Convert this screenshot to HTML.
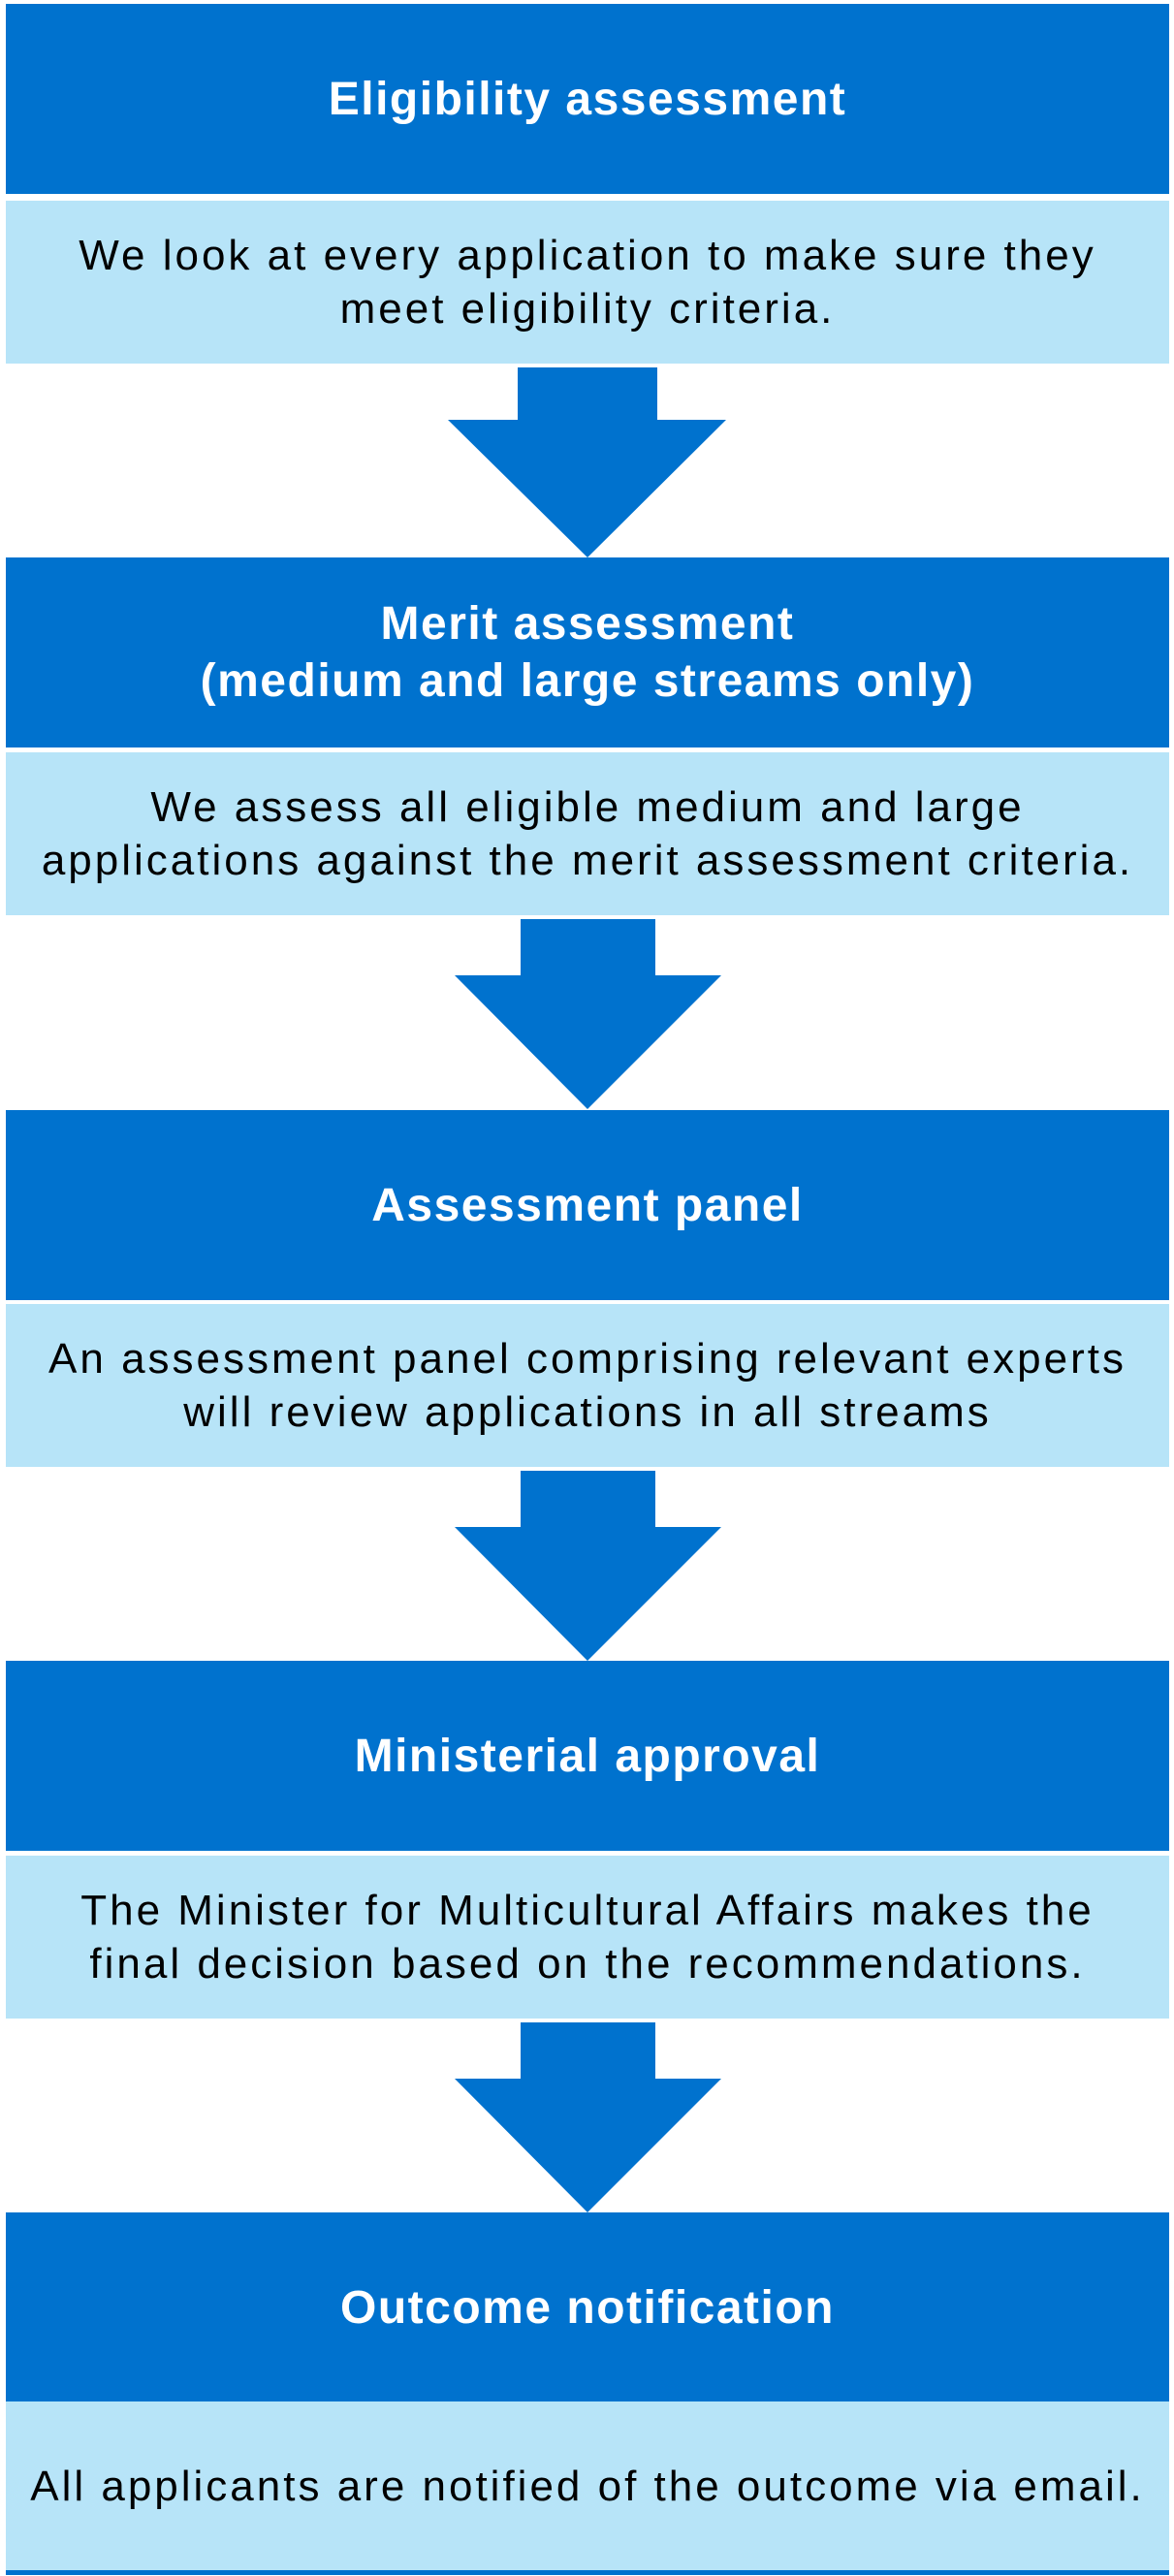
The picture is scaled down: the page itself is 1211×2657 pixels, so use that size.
<!DOCTYPE html>
<html><head><meta charset="utf-8"><style>
html,body{margin:0;padding:0;background:#fff;}
body{width:1211px;height:2657px;position:relative;overflow:hidden;font-family:"Liberation Sans",sans-serif;}
.d{position:absolute;left:6px;width:1200px;height:196px;background:#0072CE;color:#fff;font-weight:bold;font-size:48px;letter-spacing:1.5px;line-height:59px;display:flex;align-items:center;justify-content:center;text-align:center;}
.l{position:absolute;left:6px;width:1200px;height:168px;background:#B7E4F8;color:#000;font-size:44px;letter-spacing:3px;line-height:55px;display:flex;align-items:center;justify-content:center;text-align:center;white-space:nowrap;}
svg{position:absolute;left:0;top:0;}
</style></head><body>
<div class="d" style="top:4px">Eligibility assessment</div>
<div class="l" style="top:207px">We look at every application to make sure they<br>meet eligibility criteria.</div>
<div class="d" style="top:575px">Merit assessment<br>(medium and large streams only)</div>
<div class="l" style="top:776px">We assess all eligible medium and large<br>applications against the merit assessment criteria.</div>
<div class="d" style="top:1145px">Assessment panel</div>
<div class="l" style="top:1345px">An assessment panel comprising relevant experts<br>will review applications in all streams</div>
<div class="d" style="top:1713px">Ministerial approval</div>
<div class="l" style="top:1914px">The Minister for Multicultural Affairs makes the<br>final decision based on the recommendations.</div>
<div class="d" style="top:2282px">Outcome notification</div>
<div class="l" style="top:2477px;height:174px">All applicants are notified of the outcome via email.</div>
<div style="position:absolute;left:6px;top:2651px;width:1200px;height:5px;background:#0072CE"></div>
<svg width="1211" height="2657">
<g fill="#0072CE">
<polygon points="534,379 678,379 678,433 749,433 606,575 462,433 534,433"/>
<polygon points="537,948 676,948 676,1006 744,1006 606,1144 469,1006 537,1006"/>
<polygon points="537,1517 676,1517 676,1575 744,1575 606,1713 469,1575 537,1575"/>
<polygon points="537,2086 676,2086 676,2144 744,2144 606,2282 469,2144 537,2144"/>
</g>
</svg>
</body></html>
